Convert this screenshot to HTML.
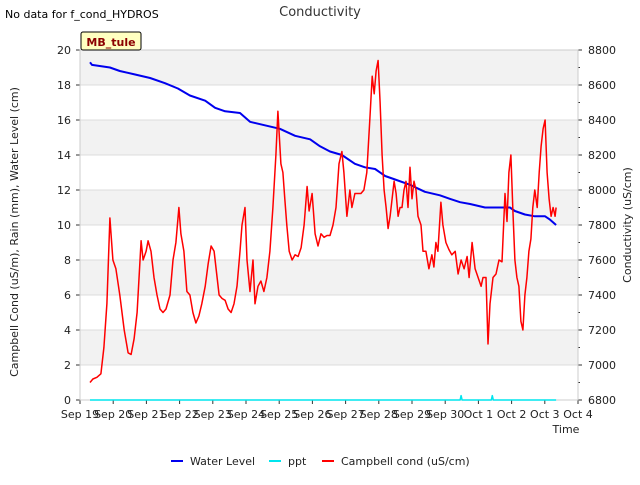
<!DOCTYPE html>
<html><head><meta charset="utf-8"><style>
body{margin:0;background:#fff;font-family:"Liberation Sans","DejaVu Sans",sans-serif}
</style></head><body>
<svg id="c" width="640" height="480" xmlns="http://www.w3.org/2000/svg" font-family="DejaVu Sans, Liberation Sans, sans-serif"></svg>
<script>
const xTickLabels=["Sep 19","Sep 20","Sep 21","Sep 22","Sep 23","Sep 24","Sep 25","Sep 26","Sep 27","Sep 28","Sep 29","Sep 30","Oct 1","Oct 2","Oct 3","Oct 4"];
const leftTicks=[0,2,4,6,8,10,12,14,16,18,20];
const rightTicks=[6800,7000,7200,7400,7600,7800,8000,8200,8400,8600,8800];
const condDays=[0.30,0.39,0.51,0.63,0.72,0.81,0.90,0.99,1.08,1.20,1.33,1.45,1.54,1.63,1.72,1.84,1.90,1.99,2.05,2.14,2.23,2.32,2.41,2.50,2.59,2.71,2.80,2.89,2.98,3.04,3.13,3.22,3.31,3.40,3.49,3.58,3.67,3.77,3.86,3.95,4.04,4.13,4.19,4.28,4.37,4.46,4.55,4.64,4.73,4.82,4.88,4.97,5.03,5.12,5.21,5.27,5.36,5.45,5.54,5.63,5.72,5.81,5.90,5.96,6.05,6.11,6.17,6.23,6.30,6.39,6.48,6.57,6.66,6.75,6.84,6.90,6.99,7.08,7.17,7.26,7.35,7.44,7.53,7.62,7.71,7.80,7.89,7.95,8.04,8.13,8.19,8.28,8.37,8.46,8.55,8.64,8.73,8.80,8.86,8.92,8.98,9.04,9.10,9.16,9.22,9.28,9.34,9.40,9.46,9.52,9.58,9.64,9.70,9.76,9.82,9.88,9.94,10.00,10.06,10.12,10.18,10.27,10.33,10.42,10.51,10.60,10.66,10.72,10.78,10.87,10.93,11.02,11.11,11.20,11.30,11.39,11.48,11.57,11.66,11.72,11.81,11.90,11.99,12.08,12.14,12.23,12.29,12.35,12.44,12.53,12.62,12.71,12.80,12.86,12.92,12.98,13.04,13.10,13.16,13.22,13.28,13.34,13.40,13.46,13.52,13.58,13.64,13.70,13.77,13.83,13.89,13.95,14.01,14.07,14.13,14.19,14.25,14.31,14.34];
const condValues=[6900,6920,6930,6950,7100,7350,7840,7600,7550,7400,7200,7070,7060,7150,7300,7710,7600,7650,7710,7650,7500,7400,7320,7300,7320,7400,7600,7700,7900,7750,7650,7420,7400,7300,7240,7280,7350,7450,7580,7680,7650,7500,7400,7380,7370,7320,7300,7350,7450,7650,7800,7900,7600,7420,7600,7350,7450,7480,7420,7500,7650,7900,8200,8450,8150,8100,7950,7800,7650,7600,7630,7620,7670,7800,8020,7880,7980,7750,7680,7750,7730,7740,7740,7800,7900,8150,8220,8100,7850,8000,7900,7980,7980,7980,8000,8100,8400,8650,8550,8680,8740,8500,8200,8000,7900,7780,7850,7950,8050,7980,7850,7900,7900,8000,8050,7900,8130,7950,8050,8000,7850,7800,7650,7650,7550,7630,7560,7700,7650,7930,7800,7700,7660,7630,7650,7520,7600,7550,7620,7500,7700,7550,7500,7450,7500,7500,7120,7350,7500,7520,7600,7590,7980,7820,8100,8200,7880,7600,7500,7450,7250,7200,7400,7500,7650,7720,7900,8000,7900,8100,8250,8350,8400,8100,7950,7850,7900,7850,7900];
const wlDays=[0.30,0.36,0.90,1.20,1.66,2.11,2.56,2.95,3.31,3.77,4.07,4.37,4.82,5.12,5.57,6.02,6.48,6.93,7.23,7.53,7.89,8.28,8.58,8.89,9.19,9.49,9.94,10.39,10.84,11.14,11.45,11.75,12.20,12.65,12.95,13.10,13.40,13.70,14.01,14.16,14.34];
const wlValues=[19.3,19.15,19.0,18.8,18.6,18.4,18.1,17.8,17.4,17.1,16.7,16.5,16.4,15.9,15.7,15.5,15.1,14.9,14.5,14.2,14.0,13.5,13.3,13.2,12.8,12.6,12.3,11.9,11.7,11.5,11.3,11.2,11.0,11.0,11.0,10.8,10.6,10.5,10.5,10.3,10.0];
const pptDays=[0.30,11.45,11.48,11.51,12.39,12.42,12.45,14.34];
const pptValues=[0,0,0.25,0,0,0.25,0,0];

const NS="http://www.w3.org/2000/svg",svg=document.getElementById('c');
const X0=80,X1=578,Y0=400,Y1=50;
const xs=d=>X0+(X1-X0)*d/15;
const yl=v=>Y0-(Y0-Y1)*v/20;
const yr=v=>Y0-(Y0-Y1)*(v-6800)/2000;
function mk(t,a,txt){const e=document.createElementNS(NS,t);for(const k in a)e.setAttribute(k,a[k]);if(txt!==undefined)e.textContent=txt;svg.appendChild(e);return e;}
let e;
for(let i=0;i<10;i++){e=mk('rect',{x:X0,y:yl(2*i+2),width:X1-X0,height:yl(2*i)-yl(2*i+2),fill:i%2?'#f2f2f2':'#ffffff'});

}
leftTicks.forEach(v=>{e=mk('line',{x1:X0,x2:X1,y1:yl(v),y2:yl(v),stroke:'#dcdcdc','stroke-width':1});


e=mk('text',{x:X0-9,y:yl(v)+4,'text-anchor':'end','font-size':11,fill:'#222'},v);


mk('line',{x1:X0-4,x2:X0,y1:yl(v),y2:yl(v),stroke:'#333'});});
rightTicks.forEach((v,i)=>{e=mk('text',{x:X1+10,y:yr(v)+4,'font-size':11,fill:'#222'},v);


mk('line',{x1:X1,x2:X1+4,y1:yr(v),y2:yr(v),stroke:'#333'});
if(i<rightTicks.length-1)mk('line',{x1:X1,x2:X1+2,y1:yr(v+100),y2:yr(v+100),stroke:'#333'});});
xTickLabels.forEach((l,i)=>{e=mk('text',{x:xs(i),y:Y0+18,'text-anchor':'middle','font-size':11,fill:'#222'},l);


mk('line',{x1:xs(i),x2:xs(i),y1:Y0,y2:Y0+4,stroke:'#333'});});
mk('rect',{x:X0,y:Y1,width:X1-X0,height:Y0-Y1,fill:'none',stroke:'#ccc'});
function line(ds,vs,f,col,w,name){let p=ds.map((d,i)=>(i?'L':'M')+xs(d).toFixed(1)+','+f(vs[i]).toFixed(1)).join('');
const el=mk('path',{d:p,fill:'none',stroke:col,'stroke-width':w,'stroke-linejoin':'round'});

}
line(pptDays,pptValues,yl,'#00e5ee',1.5,'ppt-line');
line(wlDays,wlValues,yl,'#0000ee',2,'water-level-line');
line(condDays,condValues,yr,'#ff0000',1.5,'campbell-cond-line');
e=mk('text',{x:320,y:16,'text-anchor':'middle','font-size':13,fill:'#333'},'Conductivity');

e=mk('text',{x:5,y:18,'font-size':11,fill:'#000'},'No data for f_cond_HYDROS');

e=mk('rect',{x:81,y:32,width:60,height:18,fill:'#ffffc0',stroke:'#000','stroke-width':1,rx:2});

e=mk('text',{x:111,y:46,'text-anchor':'middle','font-size':11,'font-weight':'bold',fill:'#8b0000'},'MB_tule');

e=mk('text',{x:18,y:232,'text-anchor':'middle','font-size':11,fill:'#222',transform:'rotate(-90 18 232)'},'Campbell Cond (uS/m), Rain (mm), Water Level (cm)');

e=mk('text',{x:631,y:225,'text-anchor':'middle','font-size':11,fill:'#222',transform:'rotate(-90 631 225)'},'Conductivity (uS/cm)');

e=mk('text',{x:566,y:433,'text-anchor':'middle','font-size':11,fill:'#222'},'Time');

[[171,'#0000ee','Water Level'],[269,'#00e5ee','ppt'],[322,'#ff0000','Campbell cond (uS/cm)']].forEach(([x,c,t])=>{
e=mk('line',{x1:x,x2:x+12,y1:461,y2:461,stroke:c,'stroke-width':2});

e=mk('text',{x:x+19,y:465,'font-size':11,fill:'#222'},t);
});
</script>
</body></html>
